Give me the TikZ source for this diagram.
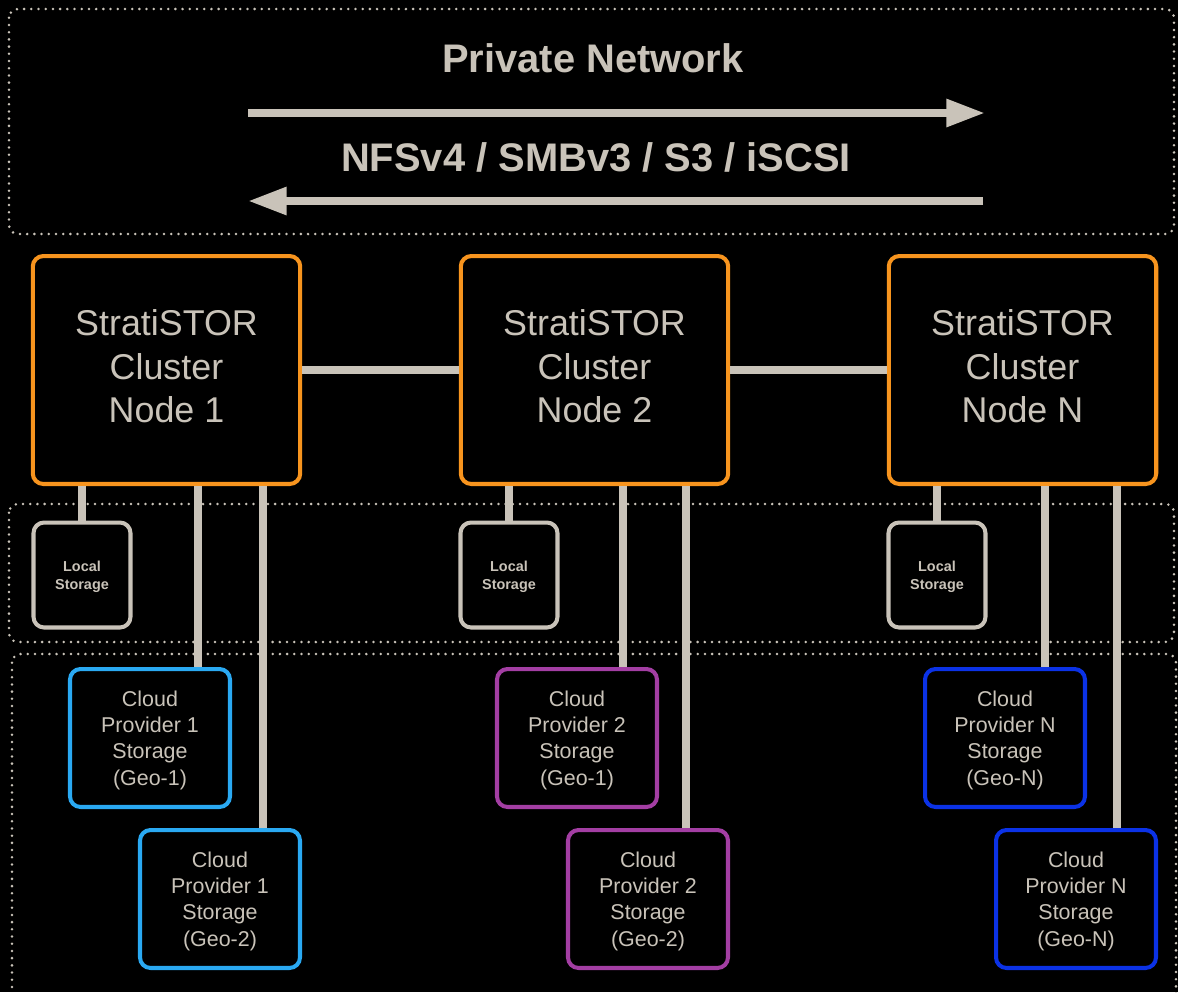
\documentclass[tikz,border=0pt]{standalone}
\usepackage{fontspec}
\setmainfont{Liberation Sans}
\usetikzlibrary{arrows.meta}
\definecolor{stone}{HTML}{C9C3B9}
\definecolor{nodeorange}{HTML}{F7941E}
\definecolor{geoblue}{HTML}{2AA9F2}
\definecolor{geopurple}{HTML}{A33EA3}
\definecolor{geonavy}{HTML}{0B32E6}
\tikzset{
  zone/.style={stone,line width=1.6pt,dash pattern=on 0pt off 4.1pt,line cap=round,rounded corners=5pt},
  link/.style={stone,line width=4.5pt},
  heading/.style={text=stone,font=\fontsize{22.7}{27}\selectfont\bfseries},
  cluster/.style={draw=nodeorange,line width=2.3pt,rounded corners=6pt,minimum width=5.35cm,minimum height=4.56cm,text depth=4.5pt,align=center,text=stone,font=\fontsize{20.4}{25}\selectfont},
  localbox/.style={draw=stone,line width=2.3pt,rounded corners=6pt,minimum width=1.94cm,minimum height=2.1cm,text depth=0pt,align=center,text=stone,font=\fontsize{8.2}{10.2}\selectfont\bfseries},
  cloudbox/.style={line width=2.3pt,rounded corners=6pt,minimum width=3.2cm,minimum height=2.76cm,text depth=0pt,align=center,text=stone,font=\fontsize{12.2}{14.9}\selectfont}
}
\begin{document}
\begin{tikzpicture}[x=0.02cm,y=-0.02cm]
\fill[black] (0,0) rectangle (1178,992);
\useasboundingbox (0,0) rectangle (1178,992);
\clip (0,0) rectangle (1178,992);

% Zones
\draw[zone] (9,9) rectangle (1174,234);
\draw[zone] (9,504) rectangle (1174,642);
\draw[zone] (12,654) rectangle (1176,1010);

% Private network
\node[heading] (net) at (593,58) {Private Network};
\node[heading] (proto) at (596,157) {NFSv4 / SMBv3 / S3 / iSCSI};
\coordinate (fwdA) at (248,113);
\coordinate (fwdB) at (985,113);
\coordinate (backA) at (983,201);
\coordinate (backB) at (248,201);
\draw[link,-{Triangle[length=22pt,width=15pt]}] (fwdA) -- (fwdB);
\draw[link,-{Triangle[length=22pt,width=15pt]}] (backA) -- (backB);

% Cluster nodes
\node[cluster] (cn1) at (166.5,370) {StratiSTOR\\Cluster\\Node 1};
\node[cluster] (cn2) at (594.5,370) {StratiSTOR\\Cluster\\Node 2};
\node[cluster] (cnN) at (1022.5,370) {StratiSTOR\\Cluster\\Node N};
\draw[link] (cn1) -- (cn2);
\draw[link] (cn2) -- (cnN);

% Local storage
\node[localbox] (ls1) at (82,575) {Local\\Storage};
\node[localbox] (ls2) at (509,575) {Local\\Storage};
\node[localbox] (lsN) at (937,575) {Local\\Storage};
\draw[link] (ls1.north) -- (ls1.north |- cn1.south);
\draw[link] (ls2.north) -- (ls2.north |- cn2.south);
\draw[link] (lsN.north) -- (lsN.north |- cnN.south);

% Cloud storage
\node[cloudbox,draw=geoblue] (cp1a) at (150,738) {Cloud\\Provider 1\\Storage\\(Geo-1)};
\node[cloudbox,draw=geoblue] (cp1b) at (220,899) {Cloud\\Provider 1\\Storage\\(Geo-2)};
\node[cloudbox,draw=geopurple] (cp2a) at (577,738) {Cloud\\Provider 2\\Storage\\(Geo-1)};
\node[cloudbox,draw=geopurple] (cp2b) at (648,899) {Cloud\\Provider 2\\Storage\\(Geo-2)};
\node[cloudbox,draw=geonavy] (cpNa) at (1005,738) {Cloud\\Provider N\\Storage\\(Geo-N)};
\node[cloudbox,draw=geonavy] (cpNb) at (1076,899) {Cloud\\Provider N\\Storage\\(Geo-N)};

\coordinate (t1a) at ([xshift=0.96cm]cp1a.north);
\coordinate (t1b) at ([xshift=0.86cm]cp1b.north);
\coordinate (t2a) at ([xshift=0.92cm]cp2a.north);
\coordinate (t2b) at ([xshift=0.76cm]cp2b.north);
\coordinate (tNa) at ([xshift=0.80cm]cpNa.north);
\coordinate (tNb) at ([xshift=0.82cm]cpNb.north);
\draw[link] (t1a) -- (t1a |- cn1.south);
\draw[link] (t1b) -- (t1b |- cn1.south);
\draw[link] (t2a) -- (t2a |- cn2.south);
\draw[link] (t2b) -- (t2b |- cn2.south);
\draw[link] (tNa) -- (tNa |- cnN.south);
\draw[link] (tNb) -- (tNb |- cnN.south);

\end{tikzpicture}
\end{document}
